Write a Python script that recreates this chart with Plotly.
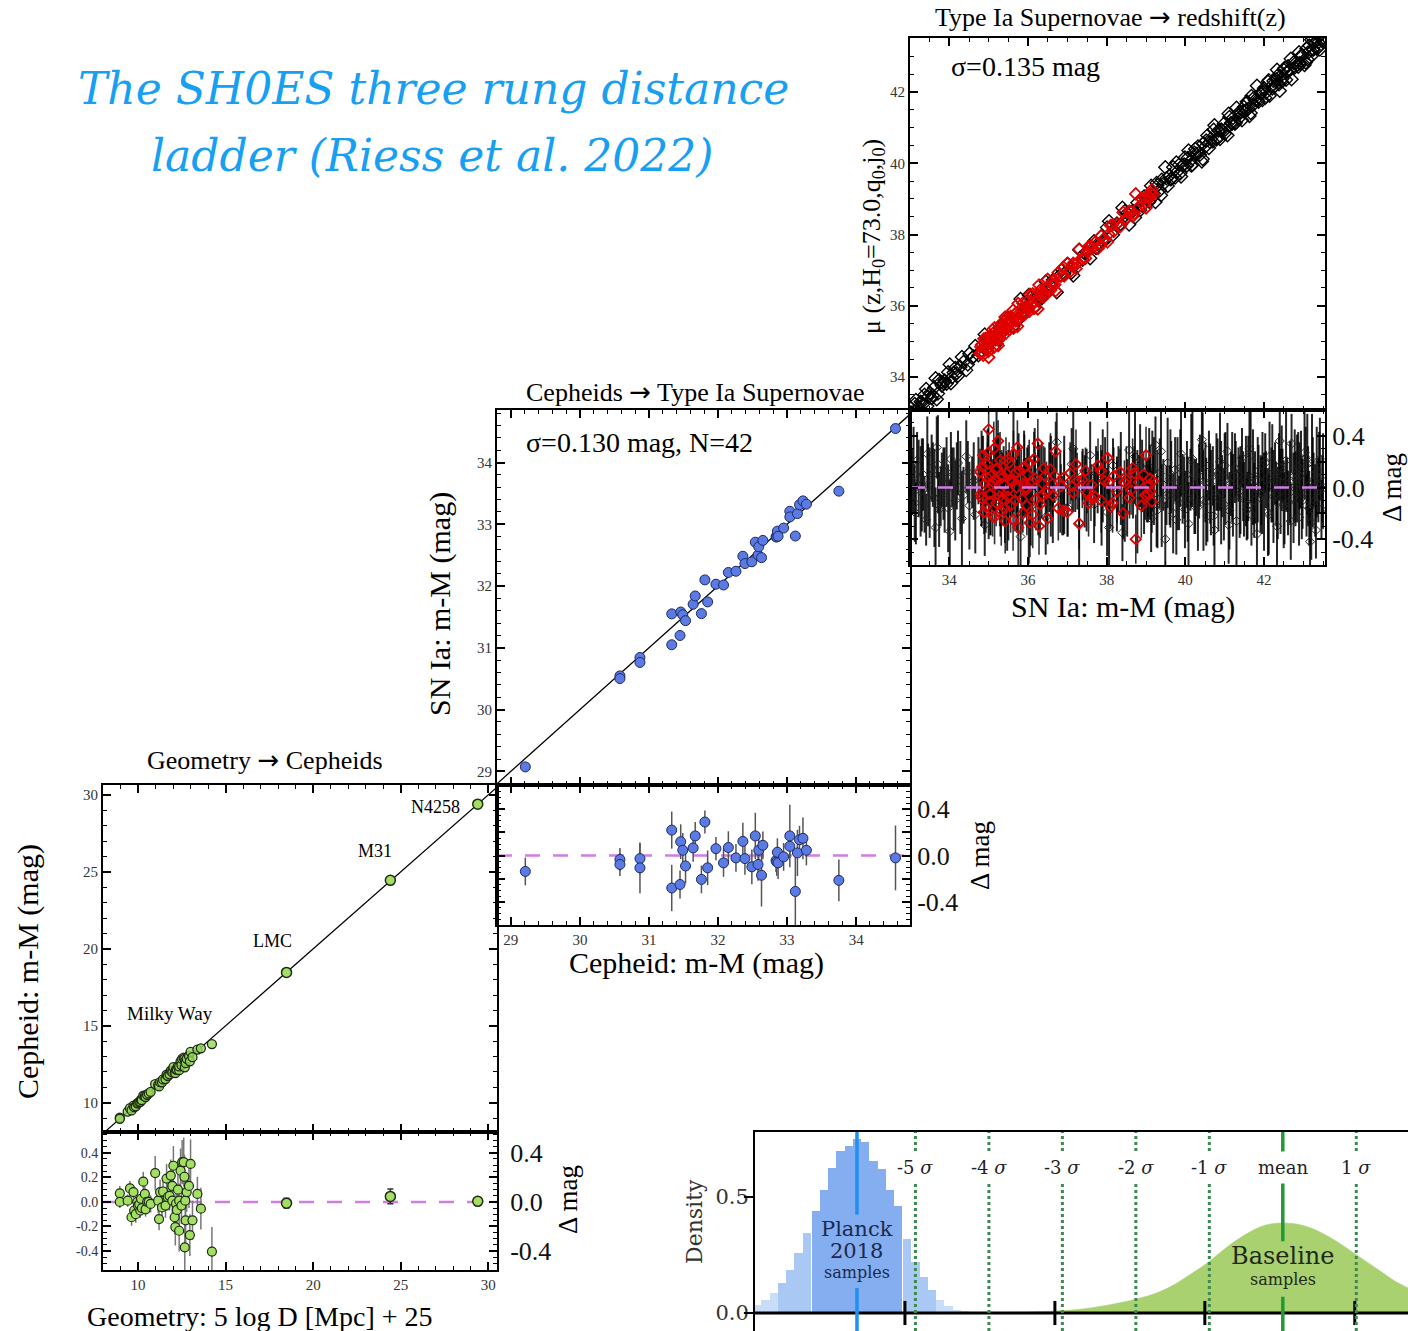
import plotly.graph_objects as go

W, H = 1408, 1331
SERIF = "Liberation Serif"
DJ = "DejaVu Serif"

# ---------------------------------------------------------------- data
# Rung 3: SN Ia Hubble flow (x = SN Ia m-M, residual, error half-length)
SN_BLACK_X = [
    33.05, 33.12, 33.18, 33.27, 33.33, 33.41, 33.46, 33.55, 33.62, 33.68,
    33.74, 33.81, 33.88, 33.93, 34.01, 34.07, 34.15, 34.22, 34.28, 34.36,
    34.43, 34.51, 34.58, 34.66, 34.74,
    34.82, 34.9, 34.97, 35.05, 35.13, 35.2, 35.3, 35.38, 35.47, 35.55,
    35.63, 35.72, 35.81, 35.9, 35.98, 36.07, 36.17, 36.26, 36.35, 36.45,
    36.54, 36.63, 36.73, 36.82, 36.92, 37.01, 37.11, 37.2, 37.3, 37.39,
    37.49, 37.58, 37.68, 37.77, 37.87, 37.96, 38.06, 38.16, 38.26, 38.36,
    38.46, 38.57, 38.67, 38.78, 38.9,
    39.02, 39.08, 39.13, 39.2, 39.24, 39.29, 39.35, 39.4, 39.44, 39.49,
    39.55, 39.6, 39.64, 39.69, 39.74, 39.8, 39.84, 39.89, 39.93, 39.99,
    40.04, 40.08, 40.13, 40.18, 40.23, 40.27, 40.32, 40.37, 40.42, 40.46,
    40.51, 40.56, 40.6, 40.65, 40.7, 40.74, 40.79, 40.84, 40.88, 40.93,
    40.98, 41.02, 41.07, 41.12, 41.16, 41.21, 41.26, 41.3, 41.35, 41.4,
    41.44, 41.49, 41.54, 41.58, 41.63, 41.68, 41.72, 41.77, 41.82, 41.86,
    41.91, 41.96, 42.0, 42.05, 42.1, 42.14, 42.19, 42.24, 42.28, 42.33,
    42.38, 42.42, 42.47, 42.52, 42.56, 42.61, 42.66, 42.7, 42.75, 42.8,
    42.84, 42.89, 42.94, 42.98, 43.03, 43.08, 43.12, 43.17, 43.22, 43.26,
    43.3, 43.34, 43.38, 43.42, 43.46, 43.5, 43.2, 42.9, 42.45, 41.95,
    33.02, 33.09, 33.15, 33.22, 33.3, 33.37, 33.44, 33.5, 33.58, 33.65,
    33.71, 33.78, 33.85, 33.97, 34.04, 34.11, 34.19, 34.32, 34.47, 34.62,
    35.0, 35.25, 35.5, 35.76, 36.02, 36.3, 36.58, 36.87, 37.15, 37.44,
    37.73, 38.01, 38.3, 38.52, 38.72, 38.95, 39.1, 38.85, 38.4, 37.9,
    39.05, 39.16, 39.27, 39.38, 39.52, 39.62, 39.77, 39.87, 39.97, 40.06,
    40.15, 40.25, 40.35, 40.44, 40.53, 40.63, 40.72, 40.82, 40.91, 41.0,
    41.1, 41.19, 41.28, 41.38, 41.47, 41.56, 41.66, 41.75, 41.84, 41.93,
    42.03, 42.12, 42.21, 42.31, 42.4, 42.5, 42.59, 42.68, 42.78, 42.87,
    42.96, 43.06, 43.15, 43.24, 43.32, 43.4, 43.48, 43.1, 42.35, 41.6,
]
SN_BLACK_RES = [
    0.05, -0.12, 0.21, -0.03, 0.10, -0.25, 0.02, 0.15, -0.08, 0.31,
    -0.17, 0.06, -0.02, 0.12, -0.34, 0.08, -0.10, 0.19, 0.00, -0.06,
    0.24, -0.14, 0.04, -0.21, 0.13, 0.07, -0.29, 0.16, -0.05, 0.01,
    0.27, -0.11, 0.09, -0.18, 0.03, 0.20, -0.07, -0.38, 0.11, 0.05,
    -0.15, 0.22, -0.01, 0.14, -0.23, 0.08, -0.09, 0.35, -0.04, 0.02,
    -0.16, 0.18, 0.06, -0.27, 0.10, -0.02, 0.25, -0.13, 0.04, -0.08,
    0.12, -0.31, 0.17, -0.05, 0.07, -0.19, 0.29, 0.01, -0.11, 0.09,
    -0.03, 0.16, -0.24, 0.05, 0.33, -0.09, 0.11, -0.14, 0.02, -0.40,
    0.19, -0.06, 0.08, -0.20, 0.14, 0.03, -0.12, 0.26, -0.01, -0.17,
    0.10, -0.28, 0.06, 0.22, -0.07, 0.00, -0.15, 0.13, 0.37, -0.10,
    0.04, -0.22, 0.17, -0.04, 0.09, -0.33, 0.12, -0.08, 0.20, 0.01,
    -0.13, 0.07, 0.28, -0.18, 0.03, -0.06, 0.15, -0.26, 0.10, -0.02,
    0.23, -0.09, 0.05, -0.14, 0.30, -0.21, 0.08, 0.00, -0.36, 0.13,
    -0.05, 0.18, -0.11, 0.06, -0.19, 0.24, 0.02, -0.07, 0.11, -0.30,
    0.16, -0.03, 0.09, -0.16, 0.21, -0.12, 0.04, 0.34, -0.08, -0.01,
    0.07, -0.23, 0.14, -0.05, 0.27, -0.14, 0.01, -0.42, 0.19, 0.06,
    -0.10, 0.12, -0.02, 0.22, -0.17, 0.05, -0.27, 0.09, 0.15, -0.06,
    -0.09, 0.14, -0.20, 0.07, 0.02, -0.13, 0.26, -0.04, 0.10, -0.31,
    0.18, -0.07, 0.03, -0.16, 0.22, -0.01, 0.09, -0.24, 0.12, 0.05,
    -0.11, 0.20, -0.06, 0.15, -0.28, 0.08, 0.01, -0.14, 0.30, -0.03,
    0.11, -0.19, 0.06, -0.08, 0.24, -0.12, 0.04, 0.17, -0.35, 0.09,
    -0.02, 0.13, -0.18, 0.28, -0.06, 0.07, -0.25, 0.15, 0.00, -0.09,
    0.21, -0.15, 0.05, 0.32, -0.11, 0.03, -0.22, 0.10, -0.04, 0.17,
    -0.29, 0.08, 0.14, -0.07, 0.01, -0.17, 0.25, -0.10, 0.06, -0.03,
    0.19, -0.21, 0.11, -0.05, 0.36, -0.13, 0.02, -0.26, 0.09, 0.16,
    -0.08, 0.23, -0.16, 0.04, -0.33, 0.12, -0.01, 0.18, -0.12, 0.07,
]
SN_BLACK_ERR = [
    0.25, 0.30, 0.22, 0.35, 0.28, 0.20, 0.32, 0.26, 0.38, 0.24,
    0.29, 0.21, 0.33, 0.27, 0.40, 0.23, 0.31, 0.25, 0.36, 0.22,
    0.28, 0.34, 0.20, 0.30, 0.26, 0.37, 0.24, 0.29, 0.32, 0.21,
    0.35, 0.27, 0.23, 0.31, 0.25, 0.39, 0.28, 0.22, 0.33, 0.26,
    0.30, 0.24, 0.36, 0.21, 0.29, 0.27, 0.34, 0.23, 0.31, 0.38,
    0.22, 0.28, 0.25, 0.35, 0.20, 0.32, 0.26, 0.30, 0.24, 0.37,
    0.27, 0.33, 0.21, 0.29, 0.36, 0.23, 0.31, 0.25, 0.40, 0.28,
    0.24, 0.30, 0.26, 0.34, 0.22, 0.38, 0.27, 0.32, 0.20, 0.29,
    0.35, 0.23, 0.28, 0.31, 0.25, 0.36, 0.21, 0.33, 0.27, 0.30,
    0.26, 0.32, 0.24, 0.37, 0.29, 0.22, 0.34, 0.28, 0.25, 0.39,
    0.31, 0.20, 0.27, 0.33, 0.23, 0.35, 0.30, 0.26, 0.38, 0.24,
    0.28, 0.36, 0.22, 0.30, 0.25, 0.32, 0.27, 0.40, 0.21, 0.34,
    0.23, 0.29, 0.35, 0.26, 0.31, 0.24, 0.37, 0.28, 0.33, 0.20,
    0.30, 0.25, 0.38, 0.22, 0.34, 0.27, 0.29, 0.36, 0.24, 0.31,
    0.26, 0.33, 0.21, 0.28, 0.39, 0.25, 0.32, 0.23, 0.35, 0.29,
    0.34, 0.22, 0.30, 0.27, 0.36, 0.24, 0.31, 0.26, 0.38, 0.21,
    0.28, 0.35, 0.25, 0.32, 0.23, 0.37, 0.29, 0.26, 0.33, 0.30,
    0.27, 0.33, 0.24, 0.30, 0.36, 0.22, 0.29, 0.35, 0.25, 0.31,
    0.38, 0.23, 0.28, 0.34, 0.21, 0.32, 0.26, 0.37, 0.24, 0.30,
    0.29, 0.22, 0.35, 0.27, 0.31, 0.25, 0.39, 0.23, 0.33, 0.28,
    0.21, 0.34, 0.26, 0.30, 0.37, 0.24, 0.29, 0.32, 0.22, 0.36,
    0.25, 0.31, 0.28, 0.35, 0.23, 0.38, 0.27, 0.30, 0.24, 0.33,
    0.36, 0.21, 0.29, 0.26, 0.34, 0.31, 0.23, 0.28, 0.40, 0.25,
    0.30, 0.35, 0.22, 0.32, 0.27, 0.24, 0.37, 0.29, 0.33, 0.26,
    0.23, 0.31, 0.38, 0.25, 0.28, 0.34, 0.21, 0.30, 0.36, 0.27,
    0.32, 0.24, 0.29, 0.35, 0.22, 0.31, 0.26, 0.39, 0.28, 0.33,
]
SN_RED_X = [
    34.78, 34.82, 34.86, 34.9, 34.93, 34.97, 35.0, 35.03, 35.06, 35.1,
    35.13, 35.16, 35.19, 35.22, 35.26, 35.29, 35.32, 35.35, 35.39, 35.42,
    35.45, 35.49, 35.52, 35.56, 35.6, 35.63, 35.67, 35.71, 35.75, 35.79,
    35.83, 35.87, 35.91, 35.95, 36.0, 36.05, 36.1, 36.15, 36.2, 36.25,
    36.31, 36.37, 36.43, 36.5, 36.57, 36.63, 36.7, 36.77, 36.84, 36.92,
    37.0, 37.07, 37.15, 37.22, 37.3, 37.38, 37.46, 37.54, 37.62, 37.7,
    37.78, 37.86, 37.94, 38.02, 38.1, 38.18, 38.26, 38.34, 38.42, 38.5,
    38.58, 38.66, 38.74, 38.82, 38.88, 38.94, 39.0, 39.05, 39.1, 39.15,
    35.08, 35.37, 35.58, 35.94, 36.35, 36.62, 37.12, 37.5, 38.05, 38.62,
    34.8, 34.84, 34.88, 34.95, 34.99, 35.04, 35.11, 35.15, 35.18, 35.24,
    35.28, 35.33, 35.41, 35.44, 35.5, 35.54, 35.62, 35.69, 35.73, 35.85,
    35.89, 35.97, 36.03, 36.12, 36.18, 36.28, 36.4, 36.47, 36.68, 36.9,
    37.25, 37.6, 37.85, 38.15, 38.45, 38.7, 38.98, 39.08, 39.12, 39.18,
]
SN_RED_RES = [
    0.12, -0.08, 0.25, 0.03, -0.15, 0.18, 0.45, -0.05, 0.09, -0.22,
    0.30, 0.06, -0.12, 0.15, -0.03, 0.21, -0.18, 0.08, 0.02, -0.26,
    0.11, -0.07, 0.19, -0.14, 0.04, 0.26, -0.10, 0.00, -0.31, 0.13,
    0.07, -0.20, 0.16, -0.02, 0.10, -0.27, 0.05, 0.22, -0.09, 0.34,
    -0.13, 0.03, 0.09, -0.24, 0.14, -0.06, 0.28, -0.16, 0.01, 0.08,
    -0.19, 0.11, -0.04, 0.18, -0.28, 0.06, 0.13, -0.12, 0.02, -0.07,
    0.17, -0.10, 0.05, 0.23, -0.15, 0.09, -0.03, 0.12, -0.20, 0.06,
    -0.08, 0.15, -0.40, 0.04, -0.14, 0.10, 0.25, -0.05, 0.07, -0.11,
    0.02, -0.09, 0.05, 0.00, -0.06, 0.03, 0.01, -0.04, 0.04, -0.02,
    -0.05, 0.16, -0.19, 0.08, 0.27, -0.11, 0.04, -0.23, 0.14, 0.36,
    -0.07, 0.10, -0.16, 0.21, -0.02, 0.06, -0.25, 0.12, 0.31, -0.09,
    0.03, -0.14, 0.19, -0.21, 0.07, -0.30, 0.15, -0.04, 0.09, -0.18,
    0.05, -0.08, 0.13, -0.12, 0.04, 0.11, -0.06, 0.02, -0.03, 0.05,
]
SN_RED_ERR = [
    0.18, 0.22, 0.15, 0.25, 0.20, 0.17, 0.28, 0.19, 0.23, 0.16,
    0.21, 0.26, 0.18, 0.24, 0.15, 0.22, 0.27, 0.19, 0.20, 0.25,
    0.17, 0.23, 0.16, 0.21, 0.26, 0.18, 0.24, 0.20, 0.29, 0.19,
    0.22, 0.15, 0.25, 0.18, 0.23, 0.27, 0.17, 0.21, 0.24, 0.19,
    0.26, 0.16, 0.22, 0.20, 0.28, 0.18, 0.23, 0.25, 0.17, 0.21,
    0.19, 0.24, 0.15, 0.27, 0.20, 0.22, 0.18, 0.26, 0.16, 0.23,
    0.21, 0.25, 0.19, 0.28, 0.17, 0.22, 0.24, 0.18, 0.20, 0.26,
    0.16, 0.23, 0.19, 0.21, 0.25, 0.17, 0.22, 0.18, 0.20, 0.24,
    0.19, 0.21, 0.17, 0.23, 0.18, 0.22, 0.20, 0.16, 0.21, 0.19,
    0.20, 0.24, 0.17, 0.22, 0.19, 0.26, 0.18, 0.21, 0.25, 0.16,
    0.23, 0.19, 0.27, 0.18, 0.22, 0.20, 0.24, 0.17, 0.21, 0.25,
    0.19, 0.23, 0.18, 0.26, 0.20, 0.22, 0.17, 0.24, 0.21, 0.19,
    0.22, 0.18, 0.20, 0.23, 0.17, 0.21, 0.19, 0.16, 0.18, 0.20,
]

# Rung 2: Cepheid hosts of SN Ia (x = Cepheid m-M, residual, error)
CEPH_X = [29.21, 30.58, 30.58, 30.87, 30.87, 31.33, 31.33, 31.46, 31.45, 31.49,
          31.53, 31.64, 31.67, 31.76, 31.81, 31.85, 31.97, 32.08, 32.15, 32.26,
          32.36, 32.39, 32.49, 32.54, 32.58, 32.59, 32.63, 32.65, 32.84, 32.85,
          32.86, 32.87, 32.95, 33.04, 33.04, 33.12, 33.15, 33.18, 33.23, 33.28,
          33.75, 34.57]
CEPH_RES = [-0.137, -0.034, -0.077, -0.026, -0.106, 0.22, -0.28, 0.12, -0.25, 0.046,
            -0.09, 0.066, 0.17, -0.206, 0.29, -0.106, 0.06, -0.063, 0.07, -0.02,
            0.123, -0.026, -0.097, 0.17, -0.077, 0.046, -0.17, 0.089, -0.043, -0.055,
            0.029, -0.063, -0.011, 0.17, 0.08, -0.31, 0.023, 0.137, 0.149, 0.046,
            -0.214, -0.02]
CEPH_ERR = [0.12, 0.10, 0.10, 0.13, 0.22, 0.16, 0.20, 0.15, 0.12, 0.15,
            0.15, 0.12, 0.12, 0.12, 0.10, 0.15, 0.10, 0.12, 0.14, 0.12,
            0.16, 0.14, 0.15, 0.20, 0.14, 0.13, 0.27, 0.12, 0.10, 0.12,
            0.12, 0.14, 0.12, 0.27, 0.10, 0.30, 0.20, 0.12, 0.18, 0.13,
            0.18, 0.28]

# Rung 1: geometric anchors (x = 5 log D + 25, residual, error)
MW_X = [8.96, 8.96, 9.41, 9.54, 9.63, 9.74, 9.78, 9.87, 9.96, 10.00,
        10.07, 10.13, 10.17, 10.22, 10.30, 10.39, 10.43, 10.52, 10.61, 10.72,
        10.98, 11.15, 11.20, 11.26, 11.37, 11.43, 11.57, 11.63, 11.70, 11.80,
        11.87, 11.96, 11.96, 12.02, 12.09, 12.13, 12.17, 12.22, 12.28, 12.35,
        12.35, 12.43, 12.48, 12.52, 12.61, 12.65, 12.67, 12.70, 12.72, 12.78,
        12.91, 12.96, 13.00, 13.11, 13.39, 13.59, 14.22]
MW_RES = [0.07, 0.00, 0.01, 0.11, -0.125, 0.08, -0.07, -0.10, 0.00, -0.03,
          -0.02, -0.07, 0.025, -0.05, 0.165, 0.065, -0.06, 0.00, 0.00, -0.016,
          0.235, 0.01, -0.14, 0.08, -0.045, 0.085, -0.03, 0.19, 0.04, 0.05,
          0.215, 0.13, 0.01, 0.295, -0.125, -0.205, -0.015, -0.065, 0.10, -0.235,
          0.01, 0.255, -0.03, 0.325, 0.325, 0.205, -0.37, 0.01, -0.15, 0.08,
          0.13, -0.27, 0.31, -0.15, 0.065, -0.055, -0.405]
MW_ERR = [0.06, 0.05, 0.05, 0.06, 0.07, 0.05, 0.06, 0.07, 0.05, 0.05,
          0.06, 0.06, 0.05, 0.06, 0.08, 0.07, 0.06, 0.07, 0.06, 0.07,
          0.14, 0.10, 0.09, 0.10, 0.09, 0.12, 0.10, 0.12, 0.11, 0.12,
          0.13, 0.14, 0.12, 0.16, 0.14, 0.15, 0.13, 0.14, 0.15, 0.17,
          0.14, 0.18, 0.15, 0.18, 0.20, 0.18, 0.25, 0.17, 0.18, 0.16,
          0.18, 0.17, 0.20, 0.16, 0.14, 0.17, 0.20]
ANCHOR_X = [18.48, 24.41, 29.40]
ANCHOR_RES = [-0.01, 0.045, 0.005]
ANCHOR_ERR = [0.04, 0.06, 0.03]

# H0 density panel
PLANCK_BIN_CENTERS = [66.03, 66.14, 66.25, 66.36, 66.47, 66.58, 66.69, 66.81, 66.92,
                      67.03, 67.14, 67.25, 67.36, 67.47, 67.58, 67.69, 67.80, 67.91,
                      68.03, 68.14, 68.25, 68.36, 68.47, 68.58, 68.69, 68.80, 68.91]
PLANCK_DENSITY = [0.036, 0.058, 0.088, 0.13, 0.185, 0.26, 0.345, 0.44, 0.53,
                  0.625, 0.70, 0.72, 0.75, 0.735, 0.655, 0.62, 0.53, 0.46,
                  0.32, 0.22, 0.156, 0.098, 0.055, 0.029, 0.014, 0.007, 0.004]
PLANCK_BIN_WIDTH = 0.111
BASELINE_H0 = [68.8, 69.3, 69.8, 70.3, 70.8, 71.3, 71.55, 71.8, 72.05, 72.3,
               72.55, 72.8, 73.05, 73.3, 73.55, 73.8, 74.05, 74.3, 74.55, 74.8]
BASELINE_DENSITY = [0.0, 0.002, 0.006, 0.015, 0.04, 0.08, 0.115, 0.165, 0.22, 0.285,
                    0.34, 0.378, 0.388, 0.378, 0.347, 0.30, 0.245, 0.19, 0.135, 0.095]
PLANCK_MEAN = 67.36
BASELINE_MEAN = 73.04
BASELINE_SIGMA = 0.98
SIGMA_LEVELS = [-5, -4, -3, -2, -1, 1]
H0_TICKS = [68, 70, 72, 74]
DENSITY_TICKS = [0.0, 0.5]

# ---------------------------------------------------------------- helpers
def px(x):
    return x / W


def py(y):
    return 1 - y / H


annotations = []


def ann(text, x, y, size, family=SERIF, color="black", angle=0, **kw):
    d = dict(text=text, x=px(x), y=py(y), xref="paper", yref="paper",
             showarrow=False, textangle=angle, xanchor="center", yanchor="middle",
             font=dict(family=family, size=size, color=color))
    d.update(kw)
    annotations.append(d)


ARROW = "<span style='font-family:DejaVu Sans'>→</span>"
TICKFONT = dict(family=SERIF, size=15, color="#333")
BIGTICK = dict(family=SERIF, size=26, color="#111")


def ax(domain, rng, anchor, dtick=None, minor=None, labels=True, tickvals=None,
       ticktext=None, side=None, font=TICKFONT):
    d = dict(domain=domain, range=rng, anchor=anchor, showline=True, linecolor="black",
             linewidth=2, mirror="ticks", ticks="inside", ticklen=8, tickwidth=1.5,
             tickcolor="black", showgrid=False, zeroline=False, tickfont=font,
             showticklabels=labels)
    if dtick is not None:
        d.update(tickmode="linear", tick0=0, dtick=dtick)
    if tickvals is not None:
        d.update(tickmode="array", tickvals=tickvals, ticktext=ticktext)
    if minor is not None:
        d["minor"] = dict(ticks="inside", ticklen=4, tickwidth=1, tickcolor="black",
                          tick0=0, dtick=minor, showgrid=False)
    if side is not None:
        d["side"] = side
    return d


# ranges (layout)
A_X = [33.0, 43.55]
A_Y = [33.07, 43.52]
B_X = [28.8, 34.78]
B_Y = [28.78, 34.85]
C_X = [8.0, 30.5]
C_Y = [8.1, 30.65]
RES_A = [-0.6, 0.6]
RES_B = [-0.6, 0.61]
RES_C = [-0.555, 0.57]
D_X = [66.0, 74.71]
D_Y = [-0.0776, 0.780]

VIOLET = "#cf7fe3"
BLUE = "#5b7be3"
GREEN = "#a3df63"

fig = go.Figure()

# ------------------------------------------------ panel A (SN Hubble flow)
fig.add_trace(go.Scatter(x=A_X, y=A_X, mode="lines", line=dict(color="black", width=1.2),
                         xaxis="x", yaxis="y", hoverinfo="skip"))
fig.add_trace(go.Scatter(x=SN_BLACK_X, y=[x - r for x, r in zip(SN_BLACK_X, SN_BLACK_RES)],
                         mode="markers", xaxis="x", yaxis="y",
                         marker=dict(symbol="diamond-open", size=10, color="black",
                                     line=dict(width=1.4, color="black"))))
fig.add_trace(go.Scatter(x=SN_RED_X, y=[x - r for x, r in zip(SN_RED_X, SN_RED_RES)],
                         mode="markers", xaxis="x", yaxis="y",
                         marker=dict(symbol="diamond-open", size=9, color="#e00000",
                                     line=dict(width=1.8, color="#e00000"))))
fig.add_trace(go.Scatter(x=SN_BLACK_X, y=SN_BLACK_RES, mode="markers", xaxis="x2", yaxis="y2",
                         error_y=dict(type="data", array=SN_BLACK_ERR, color="rgba(0,0,0,0.85)",
                                      thickness=2.0, width=0),
                         marker=dict(symbol="diamond-open", size=7, color="#222",
                                     line=dict(width=1, color="#222"))))
fig.add_trace(go.Scatter(x=SN_RED_X, y=SN_RED_RES, mode="markers", xaxis="x2", yaxis="y2",
                         error_y=dict(type="data", array=SN_RED_ERR, color="rgba(0,0,0,0.8)",
                                      thickness=1.6, width=0),
                         marker=dict(symbol="diamond-open", size=8, color="#e00000",
                                     line=dict(width=1.8, color="#e00000"))))
fig.add_trace(go.Scatter(x=A_X, y=[0, 0], mode="lines", xaxis="x2", yaxis="y2",
                         line=dict(color=VIOLET, width=2.5, dash="15px,13px")))

# ------------------------------------------------ panel B (Cepheids -> SN Ia)
fig.add_trace(go.Scatter(x=B_X, y=B_X, mode="lines", line=dict(color="black", width=1.3),
                         xaxis="x3", yaxis="y3"))
fig.add_trace(go.Scatter(x=CEPH_X, y=[x + r for x, r in zip(CEPH_X, CEPH_RES)],
                         mode="markers", xaxis="x3", yaxis="y3",
                         marker=dict(size=10, color=BLUE, line=dict(width=1, color="#1c2a66"))))
fig.add_trace(go.Scatter(x=B_X, y=[0, 0], mode="lines", xaxis="x4", yaxis="y4",
                         line=dict(color=VIOLET, width=2.5, dash="15px,13px")))
fig.add_trace(go.Scatter(x=CEPH_X, y=CEPH_RES, mode="markers", xaxis="x4", yaxis="y4",
                         error_y=dict(type="data", array=CEPH_ERR, color="#555",
                                      thickness=1.5, width=0),
                         marker=dict(size=10, color=BLUE, line=dict(width=1, color="#1c2a66"))))

# ------------------------------------------------ panel C (Geometry -> Cepheids)
fig.add_trace(go.Scatter(x=C_X, y=C_X, mode="lines", line=dict(color="black", width=1.2),
                         xaxis="x5", yaxis="y5"))
fig.add_trace(go.Scatter(x=MW_X, y=[x + r for x, r in zip(MW_X, MW_RES)],
                         mode="markers", xaxis="x5", yaxis="y5",
                         marker=dict(size=9, color="rgba(150,215,90,0.8)",
                                     line=dict(width=1.3, color="#1d2b12"))))
fig.add_trace(go.Scatter(x=ANCHOR_X, y=[x + r for x, r in zip(ANCHOR_X, ANCHOR_RES)],
                         mode="markers", xaxis="x5", yaxis="y5",
                         marker=dict(size=10, color=GREEN, line=dict(width=1.5, color="#1d2b12"))))
fig.add_trace(go.Scatter(x=C_X, y=[0, 0], mode="lines", xaxis="x6", yaxis="y6",
                         line=dict(color=VIOLET, width=2.5, dash="15px,13px")))
fig.add_trace(go.Scatter(x=MW_X, y=MW_RES, mode="markers", xaxis="x6", yaxis="y6",
                         error_y=dict(type="data", array=MW_ERR, color="#777",
                                      thickness=1.5, width=0),
                         marker=dict(size=9, color=GREEN, line=dict(width=1.2, color="#1d2b12"))))
fig.add_trace(go.Scatter(x=ANCHOR_X, y=ANCHOR_RES, mode="markers", xaxis="x6", yaxis="y6",
                         error_y=dict(type="data", array=ANCHOR_ERR, color="#333",
                                      thickness=1.5, width=3),
                         marker=dict(size=10, color=GREEN, line=dict(width=1.5, color="#1d2b12"))))
# invisible trace so that the right-hand residual axis of panel C is rendered
fig.add_trace(go.Scatter(x=[C_X[0]], y=[0], mode="markers", xaxis="x6", yaxis="y7",
                         marker=dict(opacity=0), hoverinfo="skip"))

# ------------------------------------------------ panel D (H0 density)
def shade(c):
    d = abs(c - PLANCK_MEAN)
    if d <= 0.6:
        return "#84aeef"
    if d <= 1.05:
        return "#a9c9f4"
    return "#c8ddf8"


fig.add_trace(go.Bar(x=PLANCK_BIN_CENTERS, y=PLANCK_DENSITY, width=PLANCK_BIN_WIDTH,
                     xaxis="x8", yaxis="y8",
                     marker=dict(color=[shade(c) for c in PLANCK_BIN_CENTERS], line=dict(width=0))))
fig.add_trace(go.Scatter(x=BASELINE_H0, y=BASELINE_DENSITY, mode="lines", xaxis="x8", yaxis="y8",
                         fill="tozeroy", fillcolor="#a9d16f",
                         line=dict(color="#a9d16f", width=0.5, shape="spline")))

shapes = []
shapes.append(dict(type="line", xref="x8 domain", yref="y8", x0=0, x1=1, y0=0, y1=0,
                   line=dict(color="black", width=3)))
for t in H0_TICKS:
    shapes.append(dict(type="line", xref="x8", yref="y8", x0=t, x1=t, y0=-0.052, y1=0.052,
                       line=dict(color="black", width=3)))
# outward ticks of the density axis (drawn as shapes so labels sit close to the axis)
for t in DENSITY_TICKS:
    shapes.append(dict(type="line", xref="x8 domain", yref="y8", x0=-0.017, x1=0, y0=t, y1=t,
                       line=dict(color="black", width=2)))
for k in SIGMA_LEVELS:
    xv = BASELINE_MEAN + k * BASELINE_SIGMA
    shapes.append(dict(type="line", xref="x8", yref="y8", x0=xv, x1=xv, y0=D_Y[0], y1=D_Y[1],
                       line=dict(color="#3d8a50", width=3, dash="dot")))
for y0, y1 in [(D_Y[0], 0.108), (0.424, D_Y[1])]:
    shapes.append(dict(type="line", xref="x8", yref="y8", x0=PLANCK_MEAN, x1=PLANCK_MEAN,
                       y0=y0, y1=y1, line=dict(color="#1e8ff5", width=3.5)))
for y0, y1 in [(D_Y[0], 0.07), (0.309, 0.563), (0.69, D_Y[1])]:
    shapes.append(dict(type="line", xref="x8", yref="y8", x0=BASELINE_MEAN, x1=BASELINE_MEAN,
                       y0=y0, y1=y1, line=dict(color="#1f9a35", width=3.5)))

D_L, D_R = 755, 1408


def hx(v):
    return D_L + (v - D_X[0]) / (D_X[1] - D_X[0]) * (D_R - D_L)


for k in SIGMA_LEVELS:
    xv = BASELINE_MEAN + k * BASELINE_SIGMA
    ann(f"{k} <i>σ</i>", hx(xv), 1167, 18, family=DJ, color="#222", bgcolor="white", borderpad=5)
ann("mean", hx(BASELINE_MEAN), 1167, 18, family=DJ, color="#222", bgcolor="white", borderpad=5)
ann("Planck", hx(PLANCK_MEAN), 1229, 21, family=DJ, color="#1b2a4e")
ann("2018", hx(PLANCK_MEAN), 1251, 21, family=DJ, color="#1b2a4e")
ann("samples", hx(PLANCK_MEAN), 1272, 16, family=DJ, color="#1b2a4e")
ann("Baseline", hx(BASELINE_MEAN), 1256, 24, family=DJ, color="#1f2a1a")
ann("samples", hx(BASELINE_MEAN), 1279, 16, family=DJ, color="#1f2a1a")
ann("Density", 694, 1222, 22, family=DJ, color="#333", angle=-90)

# ------------------------------------------------ text annotations
ann("<i>The SH0ES three rung distance</i>", 433, 88, 44, family=DJ, color="#17a0f2")
ann("<i>ladder (Riess et al. 2022)</i>", 432, 155, 44, family=DJ, color="#17a0f2")

ann(f"Type Ia Supernovae {ARROW} redshift(z)", 1110, 17, 26)
ann("σ=0.135 mag", 1025, 66, 28)
ann("μ (z,H<sub>0</sub>=73.0,q<sub>0</sub>,j<sub>0</sub>)", 873, 237, 26, angle=-90)
ann("Δ mag", 1392, 488, 27, angle=-90)
ann("SN Ia: m-M (mag)", 1123, 607, 30)

ann(f"Cepheids {ARROW} Type Ia Supernovae", 695, 392, 26)
ann("σ=0.130 mag, N=42", 639, 442, 28)
ann("SN Ia: m-M (mag)", 440, 604, 30, angle=-90)
ann("Δ mag", 980, 856, 27, angle=-90)
ann("Cepheid: m-M (mag)", 696, 963, 30)

ann(f"Geometry {ARROW} Cepheids", 265, 760, 26)
ann("Milky Way", 170, 1013, 19)
for name, x, y in [("LMC", 272, 941), ("M31", 375, 851), ("N4258", 436, 807)]:
    ann(name, x, y, 18)
ann("Cepheid: m-M (mag)", 28, 972, 30, angle=-90)
ann("Δ mag", 568, 1200, 27, angle=-90)
ann("Geometry: 5 log D [Mpc] + 25", 260, 1316, 28)

# ------------------------------------------------ layout
def R(a, b):
    return [py(b), py(a)]


layout = dict(
    width=W, height=H, autosize=False, showlegend=False,
    margin=dict(l=0, r=0, t=0, b=0), paper_bgcolor="white", plot_bgcolor="white",
    annotations=annotations, shapes=shapes, bargap=0,
    xaxis=ax([px(910), px(1325)], A_X, "y", dtick=2, minor=0.5, labels=False),
    yaxis=ax(R(38, 410), A_Y, "x", dtick=2, minor=0.5),
    xaxis2=ax([px(910), px(1325)], A_X, "y2", dtick=2, minor=0.5),
    yaxis2=ax(R(410, 565), RES_A, "x2", minor=0.1, tickvals=[-0.4, -0.2, 0, 0.2, 0.4],
              ticktext=["-0.4", " ", "0.0", " ", "0.4"], side="right", font=BIGTICK),
    xaxis3=ax([px(497), px(910)], B_X, "y3", dtick=1, minor=0.2, labels=False),
    yaxis3=ax(R(410, 785), B_Y, "x3", dtick=1, minor=0.2),
    xaxis4=ax([px(497), px(910)], B_X, "y4", dtick=1, minor=0.2),
    yaxis4=ax(R(785, 925), RES_B, "x4", minor=0.05, tickvals=[-0.4, -0.2, 0, 0.2, 0.4],
              ticktext=["-0.4", " ", "0.0", " ", "0.4"], side="right", font=BIGTICK),
    xaxis5=ax([px(103), px(497)], C_X, "y5", dtick=5, minor=1, labels=False),
    yaxis5=ax(R(785, 1132), C_Y, "x5", dtick=5, minor=1),
    xaxis6=ax([px(103), px(497)], C_X, "y6", dtick=5, minor=1),
    yaxis6=ax(R(1132, 1270), RES_C, "x6", minor=0.05, tickvals=[-0.4, -0.2, 0, 0.2, 0.4],
              ticktext=["-0.4", "-0.2", "0.0", "0.2", "0.4"],
              font=dict(family=SERIF, size=14, color="#333")),
    yaxis7=dict(domain=R(1132, 1270), overlaying="y6", anchor="x6", side="right", range=RES_C,
                showline=False, ticks="outside", ticklen=7, tickcolor="rgba(0,0,0,0)",
                showgrid=False, zeroline=False, tickmode="array",
                tickvals=[-0.4, 0, 0.4], ticktext=["-0.4", "0.0", "0.4"], tickfont=BIGTICK),
    xaxis8=dict(domain=[px(755), 1.0], range=D_X, anchor="y8", side="top", showline=True,
                linecolor="black", linewidth=2, ticks="", showticklabels=False,
                showgrid=False, zeroline=False),
    yaxis8=dict(domain=[0, py(1132)], range=D_Y, anchor="x8", showline=True, linecolor="black",
                linewidth=2, ticks="", tickmode="array", tickvals=DENSITY_TICKS,
                ticktext=["0.0", "0.5"],
                tickfont=dict(family=DJ, size=21, color="#333"), showgrid=False, zeroline=False),
)
fig.update_layout(**layout)

fig.write_html("out.html")
